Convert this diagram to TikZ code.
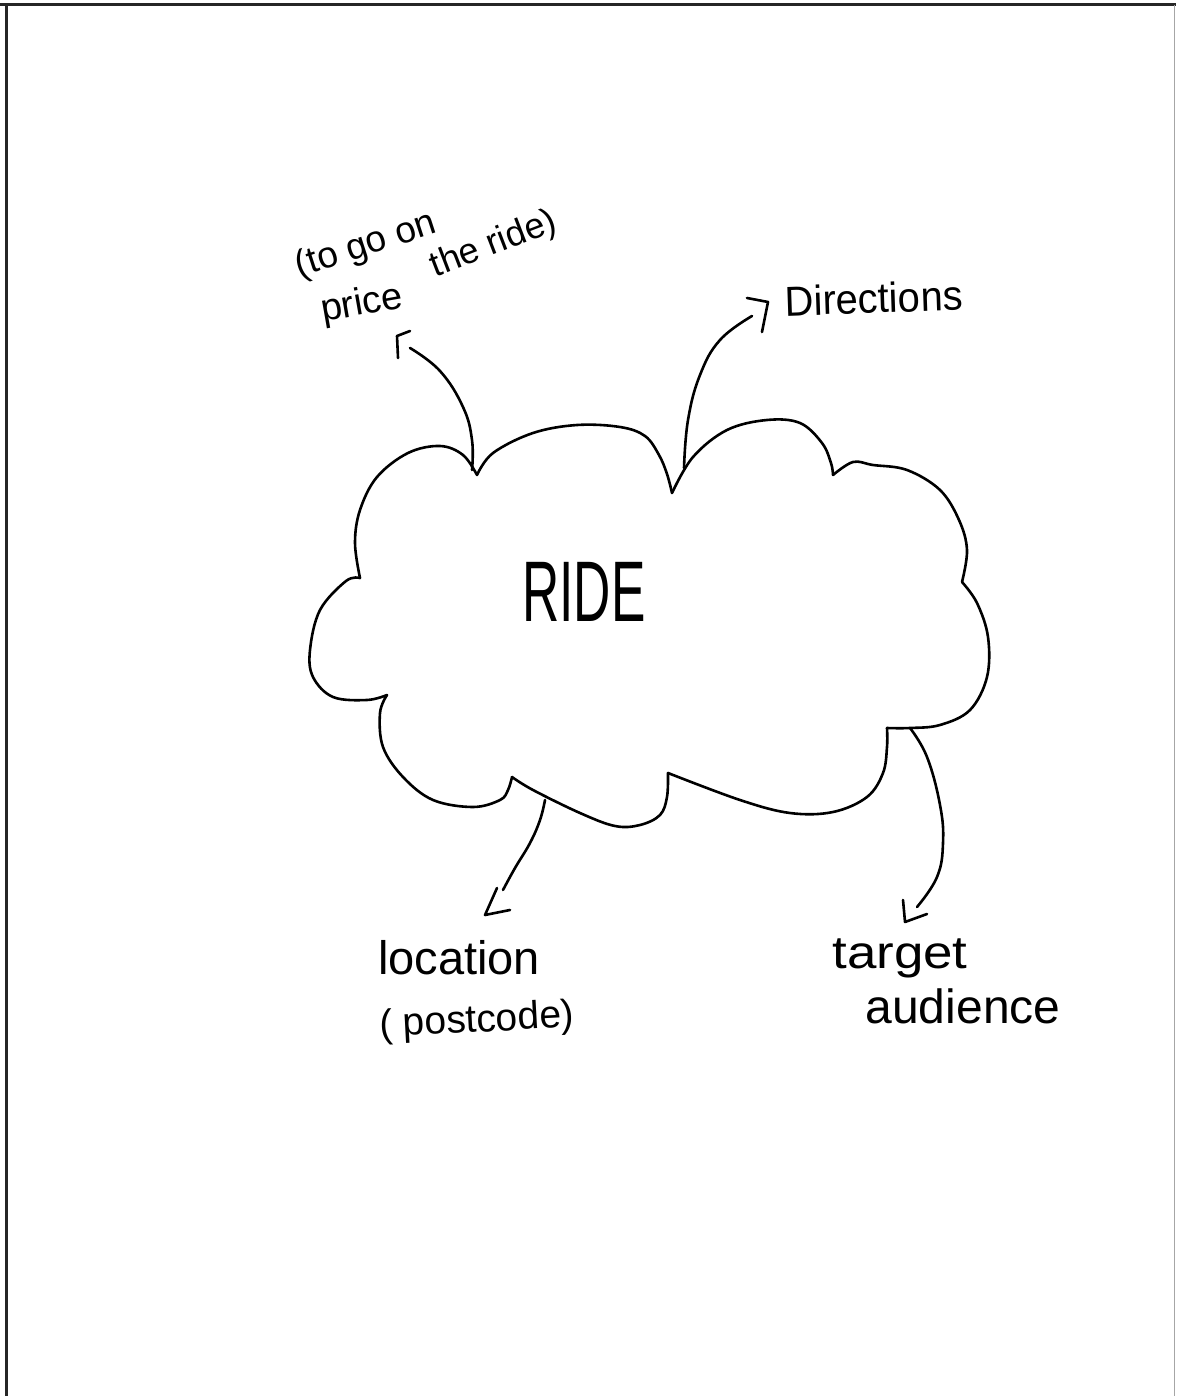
\documentclass[tikz,border=0pt]{standalone}
\usepackage{fontspec}
\setmainfont{Liberation Sans}
\begin{document}
\begin{tikzpicture}[x=1pt,y=-1pt,
  ink/.style={line width=2.6pt,line cap=round,line join=round,black},
  hand/.style={inner sep=0pt,outer sep=0pt,text=black},
  chev/.style={ink}]
\useasboundingbox (0,0) rectangle (1176,1396);
\fill[white] (0,0) rectangle (1176,1396);
% page frame
\draw[line width=3pt,black!85] (0,5) -- (1176,5);
\draw[line width=3pt,black!85] (6,5) -- (6,1396);
\draw[line width=1pt,black!35] (1174,5) -- (1174,1396);

% cloud notches
\coordinate (n1) at (360,578);
\coordinate (n2) at (477,475);
\coordinate (n3) at (672,493);
\coordinate (n4) at (833,475);
\coordinate (n5) at (962,582);
\coordinate (n6) at (887,728);
\coordinate (n7) at (668,773);
\coordinate (n8) at (512,777);
\coordinate (n9) at (387,695);

% cloud bumps
\draw[ink] plot[smooth,tension=0.6] coordinates {(n1) (355,543) (360,510) (377,477) (408,453) (440,446) (463,455) (n2)};
\draw[ink] plot[smooth,tension=0.6] coordinates {(n2) (493,453) (533,433) (577,425) (620,427) (645,436) (659,455) (667,474) (n3)};
\draw[ink] plot[smooth,tension=0.6] coordinates {(n3) (693,457) (727,430) (767,420) (800,423) (822,443) (831,463) (n4)};
\draw[ink] plot[smooth,tension=0.6] coordinates {(n4) (853,462) (873,465) (907,470) (940,490) (959,520) (967,550) (n5)};
\draw[ink] plot[smooth,tension=0.6] coordinates {(n5) (977,603) (988,637) (987,677) (970,710) (940,725) (910,728) (n6)};
\draw[ink] plot[smooth,tension=0.6] coordinates {(n6) (887,747) (883,773) (867,797) (833,812) (790,813) (740,800) (n7)};
\draw[ink] plot[smooth,tension=0.6] coordinates {(n7) (667,797) (660,815) (640,825) (615,826) (580,813) (533,790) (n8)};
\draw[ink] plot[smooth,tension=0.6] coordinates {(n8) (508,790) (500,800) (473,807) (433,800) (403,777) (383,747) (380,713) (n9)};
\draw[ink] plot[smooth,tension=0.6] coordinates {(n9) (367,700) (333,697) (313,677) (310,650) (320,610) (346,581) (n1)};

\node[hand,font=\fontsize{86}{86}\selectfont,xscale=0.6] (ride) at (584,592) {RIDE};

% labels
\node[hand,font=\fontsize{37}{37}\selectfont,rotate=18] (togo) at (366,246) {(to go on};
\node[hand,font=\fontsize{36}{36}\selectfont,rotate=21] (theride) at (494,245) {the ride)};
\node[hand,font=\fontsize{38}{38}\selectfont,rotate=10] (price) at (362,305) {price};
\node[hand,font=\fontsize{42}{42}\selectfont,xscale=0.95,rotate=2] (dir) at (874,298) {Directions};
\node[hand,font=\fontsize{47}{47}\selectfont] (loc) at (459,958) {location};
\node[hand,font=\fontsize{39}{39}\selectfont,rotate=3] (post) at (477,1022) {( postcode)};
\node[hand,font=\fontsize{46}{46}\selectfont,xscale=1.15] (target) at (900,958) {target};
\node[hand,font=\fontsize{48}{48}\selectfont] (aud) at (963,1006) {audience};

% connector ends
\coordinate (pe) at (410,348);
\coordinate (de) at (752,316);
\coordinate (le) at (503,890);
\coordinate (te) at (917,907);
\coordinate (ps) at (472,470);
\coordinate (ds) at (684,468);
\coordinate (ls) at (545,800);
\coordinate (ts) at (910,728);

% connectors
\draw[ink] plot[smooth,tension=0.7] coordinates {(ps) (472,440) (463,407) (440,371) (pe)};
\draw[chev] (398,358) -- (397,336) -- (410,331);
\draw[ink] plot[smooth,tension=0.7] coordinates {(ds) (688,420) (700,375) (720,340) (de)};
\draw[chev] (747,298) -- (768,302) -- (762,332);
\draw[ink] plot[smooth,tension=0.7] coordinates {(ls) (540,820) (530,843) (515,868) (le)};
\draw[chev] (497,888) -- (485,915) -- (510,910);
\draw[ink] plot[smooth,tension=0.7] coordinates {(ts) (927,757) (940,805) (943,843) (937,877) (te)};
\draw[chev] (903,900) -- (905,922) -- (927,914);
\end{tikzpicture}
\end{document}
